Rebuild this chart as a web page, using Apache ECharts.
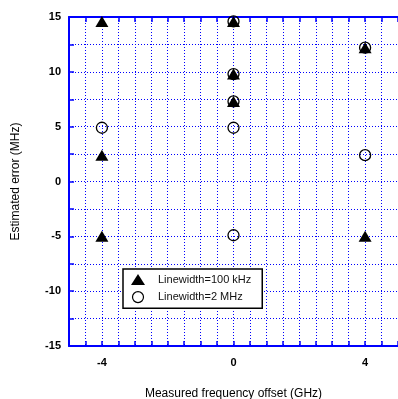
<!DOCTYPE html>
<html>
<head>
<meta charset="utf-8">
<script src="https://cdn.jsdelivr.net/npm/echarts@6/dist/echarts.min.js"></script>
<style>
  html, body { margin: 0; padding: 0; background: #fff; }
  #chart { width: 398px; height: 399px; }
</style>
</head>
<body>
<div id="chart"></div>
<script>
// data
var seriesNames = ['Linewidth=100 kHz', 'Linewidth=2 MHz'];
var narrowX = [-4, -4, -4, 0, 0, 0, 4, 4];
var narrowY = [14.6, 2.4, -5, 14.6, 9.8, 7.3, 12.2, -5];
var wideX = [-4, 0, 0, 0, 0, 0, 4, 4];
var wideY = [4.9, 4.9, -4.9, 14.6, 9.8, 7.3, 12.2, 2.4];
var xLabels = [-4, 0, 4];
var yLabels = [-15, -10, -5, 0, 5, 10, 15];

var toPairs = function (xs, ys) {
    return xs.map(function (x, i) { return [x, ys[i]]; });
};

var blue = '#0000ff';
var font = 'Liberation Sans, Arial, sans-serif';

var chart = echarts.init(document.getElementById('chart'));
var option = {
    backgroundColor: '#fff',
    animation: false,
    textStyle: { fontFamily: font },
    grid: { left: 69, right: 0, top: 17, bottom: 53, outerBoundsMode: 'none', containLabel: false },
    legend: {
        orient: 'vertical',
        left: 123, top: 269,
        width: 139,
        padding: [5, 11, 5, 8],
        itemGap: 6,
        itemWidth: 14, itemHeight: 11,
        borderColor: '#000', borderWidth: 1.5,
        backgroundColor: '#fff',
        textStyle: { fontSize: 11, color: '#111', fontFamily: font, padding: [0, 0, 0, 8] },
        data: [
            { name: seriesNames[0], icon: 'triangle' },
            { name: seriesNames[1], icon: 'circle', itemStyle: { color: '#fff', borderColor: '#000', borderWidth: 1.2 } }
        ]
    },
    xAxis: [{
        type: 'value', min: -5, max: 5, interval: 0.5,
        name: 'Measured frequency offset (GHz)',
        nameLocation: 'middle', nameGap: 42,
        nameTextStyle: { fontSize: 12, color: '#000', fontFamily: font },
        axisLine: { show: true, onZero: false, lineStyle: { color: blue, width: 2 } },
        axisTick: { show: true, inside: true, length: 5, lineStyle: { color: blue, width: 1.5 } },
        splitLine: { show: true, lineStyle: { color: blue, type: [1, 2], width: 1 } },
        axisLabel: {
            fontSize: 11, fontWeight: 'bold', color: '#000', margin: 11,
            formatter: function (v) { return xLabels.indexOf(v) >= 0 ? String(v) : ''; }
        }
    }, {
        type: 'value', min: -5, max: 5, interval: 0.5, position: 'top',
        axisLine: { show: true, onZero: false, lineStyle: { color: blue, width: 2 } },
        axisTick: { show: true, inside: true, length: 5, lineStyle: { color: blue, width: 1.5 } },
        splitLine: { show: false },
        axisLabel: { show: false }
    }],
    yAxis: [{
        type: 'value', min: -15, max: 15, interval: 2.5,
        name: 'Estimated error (MHz)',
        nameLocation: 'middle', nameGap: 47,
        nameTextStyle: { fontSize: 12, color: '#000', fontFamily: font },
        axisLine: { show: true, onZero: false, lineStyle: { color: blue, width: 2 } },
        axisTick: { show: true, inside: true, length: 5, lineStyle: { color: blue, width: 1.5 } },
        splitLine: { show: true, lineStyle: { color: blue, type: [1, 2], width: 1 } },
        axisLabel: {
            fontSize: 11, fontWeight: 'bold', color: '#000', margin: 8,
            formatter: function (v) { return yLabels.indexOf(v) >= 0 ? String(v) : ''; }
        }
    }],
    series: [{
        name: seriesNames[1],
        type: 'scatter',
        z: 2,
        symbol: 'circle', symbolSize: 11,
        itemStyle: { color: 'rgba(255,255,255,0)', borderColor: '#000', borderWidth: 1.3, opacity: 1 },
        data: toPairs(wideX, wideY)
    }, {
        name: seriesNames[0],
        type: 'scatter',
        z: 3,
        symbol: 'triangle', symbolSize: [13, 11],
        itemStyle: { color: '#000', opacity: 1 },
        data: toPairs(narrowX, narrowY)
    }]
};
chart.setOption(option);
</script>
</body>
</html>
